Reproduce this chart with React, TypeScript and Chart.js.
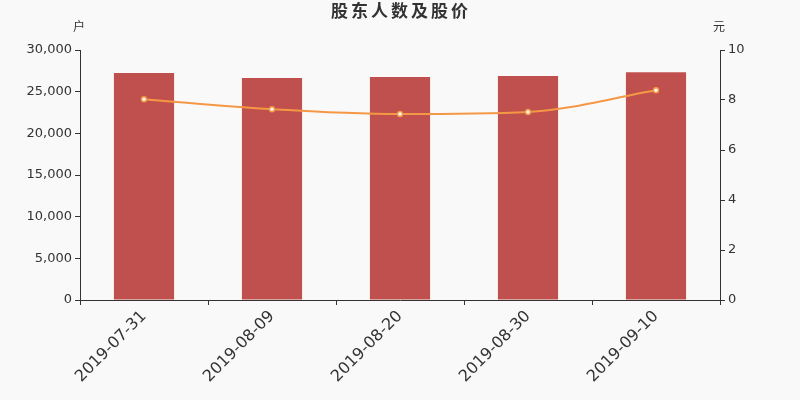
import React, { useEffect, useRef } from 'react';
import { Chart, registerables } from 'chart.js';

Chart.register(...registerables);

const dates = ['2019-07-31', '2019-08-09', '2019-08-20', '2019-08-30', '2019-09-10'];
const holders = [27240, 26640, 26760, 26880, 27320];
const prices = [8.03, 7.63, 7.44, 7.52, 8.39];

const FONT = '"DejaVu Sans", "Noto Sans CJK SC", sans-serif';

// title and axis unit labels drawn on top
const labelsPlugin = {
    id: 'extraLabels',
    afterDraw(chart: Chart) {
        const { ctx } = chart;
        ctx.save();
        ctx.fillStyle = '#333';
        ctx.textBaseline = 'middle';
        ctx.textAlign = 'center';
        ctx.font = `bold 17px ${FONT}`;
        (ctx as any).letterSpacing = '3px';
        ctx.fillText('股东人数及股价', 401, 13);
        (ctx as any).letterSpacing = '0px';
        ctx.font = `12px ${FONT}`;
        ctx.fillText('户', 79, 28);
        ctx.fillText('元', 719, 28);
        ctx.restore();
    }
};

const App: React.FC = () => {
    const canvasRef = useRef<HTMLCanvasElement | null>(null);

    useEffect(() => {
        document.body.style.margin = '0';
        document.body.style.background = '#f9f9f9';
        if (!canvasRef.current) return;

        const chart = new Chart(canvasRef.current, {
            type: 'bar',
            data: {
                labels: dates,
                datasets: [
                    {
                        type: 'line',
                        label: '股价',
                        data: prices,
                        yAxisID: 'y1',
                        borderColor: '#f59845',
                        borderWidth: 2,
                        backgroundColor: '#fff',
                        pointBackgroundColor: '#fff',
                        pointBorderColor: '#f59845',
                        pointBorderWidth: 1.5,
                        pointRadius: 2.5,
                        cubicInterpolationMode: 'monotone',
                        order: 0,
                    },
                    {
                        type: 'bar',
                        label: '股东人数',
                        data: holders,
                        yAxisID: 'y',
                        backgroundColor: '#c0504d',
                        categoryPercentage: 1,
                        barPercentage: 0.47,
                        order: 1,
                    },
                ],
            },
            options: {
                responsive: false,
                animation: false,
                layout: { padding: { top: 50, left: 0, right: 0, bottom: 0 } },
                plugins: {
                    legend: { display: false },
                    tooltip: { enabled: false },
                },
                scales: {
                    x: {
                        offset: true,
                        border: { color: '#333', width: 1 },
                        grid: { offset: true, drawOnChartArea: false, tickLength: 5, color: '#333' },
                        ticks: {
                            color: '#333',
                            font: { family: FONT, size: 16 },
                            minRotation: 45,
                            maxRotation: 45,
                            padding: 2,
                        },
                        afterFit: (s: any) => { s.height = 100; },
                    },
                    y: {
                        position: 'left',
                        min: 0,
                        max: 30000,
                        border: { color: '#333', width: 1 },
                        grid: { drawOnChartArea: false, tickLength: 5, color: '#333' },
                        ticks: {
                            stepSize: 5000,
                            color: '#333',
                            font: { family: FONT, size: 13 },
                            padding: 3,
                            callback: (v: any) => Number(v).toLocaleString('en-US'),
                        },
                        afterFit: (s: any) => { s.width = 80; },
                    },
                    y1: {
                        position: 'right',
                        min: 0,
                        max: 10,
                        border: { color: '#333', width: 1 },
                        grid: { drawOnChartArea: false, tickLength: 5, color: '#333' },
                        ticks: {
                            stepSize: 2,
                            color: '#333',
                            font: { family: FONT, size: 13 },
                            padding: 3,
                        },
                        afterFit: (s: any) => { s.width = 80; },
                    },
                },
            },
            plugins: [labelsPlugin],
        });

        return () => {
            chart.destroy();
        };
    }, []);

    return (
        <div style={{ width: 800, height: 400, background: '#f9f9f9' }}>
            <canvas ref={canvasRef} width={800} height={400}></canvas>
        </div>
    );
};

export default App;
